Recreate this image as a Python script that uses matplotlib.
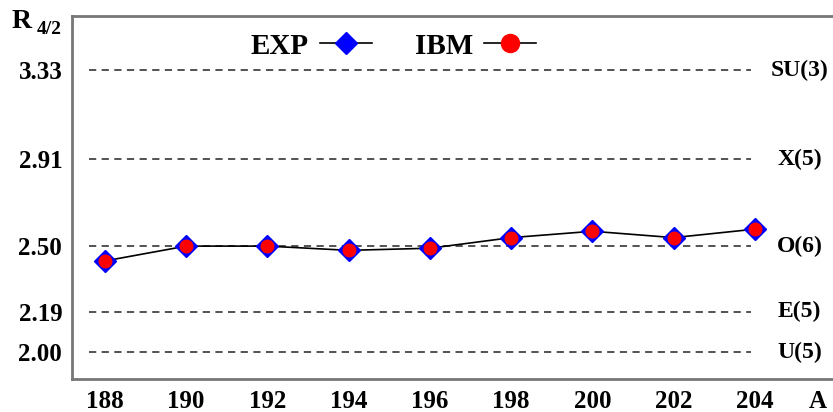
import matplotlib.pyplot as plt
from matplotlib.lines import Line2D

# mass numbers and R4/2 ratios
A = [188, 190, 192, 194, 196, 198, 200, 202, 204]
exp_r = [2.43, 2.50, 2.50, 2.48, 2.49, 2.54, 2.57, 2.54, 2.58]
ibm_r = [2.43, 2.50, 2.50, 2.48, 2.49, 2.54, 2.57, 2.54, 2.58]

# dynamical symmetry limits
limits = [3.33, 2.91, 2.50, 2.19, 2.00]
limit_names = ['SU(3)', 'X(5)', 'O(6)', 'E(5)', 'U(5)']

plt.rcParams['font.family'] = ['Liberation Serif', 'DejaVu Serif']
plt.rcParams['font.weight'] = 'bold'

fig = plt.figure(figsize=(8.33, 4.12), dpi=100)
ax = fig.add_axes([0.0864, 0.080, 0.9136, 0.881])

for val, name in zip(limits, limit_names):
    ax.plot([187.6, 203.9], [val, val], color='#444444', lw=1.3,
            linestyle=(0, (4, 3)), zorder=1)
    ax.text(205.1, val, name, ha='center', va='center', fontsize=17,
            fontweight='bold')

ax.plot(A, exp_r, color='black', lw=1.2, marker='D', ms=11,
        mfc='blue', mec='blue', zorder=3)
ax.plot(A, ibm_r, color='black', lw=1.2, marker='o', ms=9,
        mfc='red', mec='red', linestyle='none', zorder=4)

ax.set_xlim(187.19, 205.92)
ax.set_ylim(1.873, 3.585)

ax.set_xticks(A + [205.55])
ax.set_xticklabels([str(a) for a in A] + ['A'])
ax.set_yticks(limits)
ax.set_yticklabels(['%.2f' % v for v in limits])
ax.tick_params(axis='both', length=0, labelsize=18)
ax.tick_params(axis='x', pad=8)
ax.tick_params(axis='y', pad=7)

for s in ['left', 'bottom', 'top']:
    ax.spines[s].set_color('#777777')
    ax.spines[s].set_linewidth(2)
ax.spines['right'].set_visible(False)

handles = [Line2D([], [], color='black', lw=1.2, marker='D', ms=11,
                  mfc='blue', mec='blue'),
           Line2D([], [], color='black', lw=1.2, marker='o', ms=13,
                  mfc='red', mec='red')]
ax.legend(handles, ['EXP', 'IBM'], loc='center', bbox_to_anchor=(0.4225, 0.917),
          ncol=2, frameon=False, markerfirst=False, fontsize=21,
          handlelength=1.78, columnspacing=1.47, handletextpad=0.38)

fig.text(0.014, 0.932, 'R', fontsize=20, fontweight='bold', va='baseline')
fig.text(0.044, 0.918, '4/2', fontsize=14, fontweight='bold', va='baseline')

fig.savefig('out.png', dpi=100)
